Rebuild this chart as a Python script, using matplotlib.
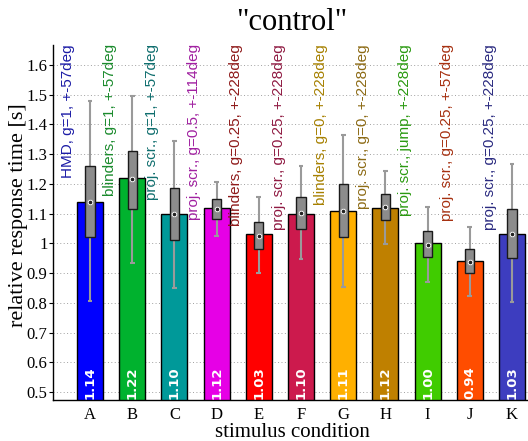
import matplotlib
matplotlib.use("Agg")
import matplotlib.pyplot as plt
import matplotlib.transforms as mtransforms
from matplotlib.ticker import FuncFormatter, MultipleLocator
import numpy as np

# --- data -------------------------------------------------------------
conditions = ["A", "B", "C", "D", "E", "F", "G", "H", "I", "J", "K"]
descriptions = [
    "HMD, g=1, +-57deg",
    "blinders, g=1, +-57deg",
    "proj. scr., g=1, +-57deg",
    "proj. scr., g=0.5, +-114deg",
    "blinders, g=0.25, +-228deg",
    "proj. scr., g=0.25, +-228deg",
    "blinders, g=0, +-228deg",
    "proj. scr., g=0, +-228deg",
    "proj. scr., jump, +-228deg",
    "proj. scr., g=0.25, +-57deg",
    "proj. scr., g=0.25, +-228deg",
]
means = [1.14, 1.22, 1.10, 1.12, 1.03, 1.10, 1.11, 1.12, 1.00, 0.94, 1.03]
medians = [1.14, 1.215, 1.10, 1.115, 1.026, 1.103, 1.11, 1.121, 0.995, 0.937, 1.031]
q1 = [1.022, 1.115, 1.011, 1.083, 0.981, 1.047, 1.02, 1.078, 0.953, 0.899, 0.95]
q3 = [1.261, 1.312, 1.185, 1.148, 1.072, 1.157, 1.20, 1.165, 1.04, 0.98, 1.114]
whisk_lo = [0.805, 0.935, 0.85, 1.026, 0.899, 0.946, 0.854, 0.997, 0.871, 0.823, 0.802]
whisk_hi = [1.48, 1.494, 1.345, 1.206, 1.155, 1.26, 1.365, 1.244, 1.121, 1.054, 1.266]

bar_colors = ["#0000ff", "#00b22e", "#009999", "#e600e6", "#ff0000", "#cc1a4d",
              "#ffb000", "#bf8000", "#40cc00", "#ff4d00", "#3d3dbf"]
text_colors = ["#1c1ca6", "#1a8a2c", "#0f6e6e", "#a020a0", "#8f1a1a", "#8f1a42",
               "#a68000", "#8c6a14", "#2a9a10", "#a63010", "#2a2a80"]

SERIF = "Liberation Serif"
SANS = "Liberation Sans"

fig = plt.figure(figsize=(5.28, 4.41), dpi=100)
ax = fig.add_axes([53 / 528, 41 / 441, 478 / 528, 355 / 441])

x = np.arange(1, len(conditions) + 1)

# bars
ax.bar(x, means, width=0.62, color=bar_colors, edgecolor="black",
       linewidth=1.0, zorder=2, bottom=0)

# whiskers with caps
ax.vlines(x, whisk_lo, whisk_hi, color="#9a9a9a", linewidth=1.5, zorder=3)
cap = 0.055
ax.hlines(whisk_lo, x - cap, x + cap, color="#9a9a9a", linewidth=1.5, zorder=3)
ax.hlines(whisk_hi, x - cap, x + cap, color="#9a9a9a", linewidth=1.5, zorder=3)

# quartile boxes
box_w = 0.22
q1a = np.array(q1)
q3a = np.array(q3)
ax.bar(x, q3a - q1a, width=box_w, bottom=q1a, color="#8c8c8c",
       edgecolor="#1a1a1a", linewidth=1.0, zorder=4)

# median markers
ax.plot(x, medians, "o", markersize=4.5, markerfacecolor="white",
        markeredgecolor="#8c8c8c", markeredgewidth=0.5, zorder=5)
ax.plot(x, medians, "o", markersize=1.6, color="#222222", zorder=6)

# value labels inside bars
for xi, m in zip(x, means):
    ax.text(xi, 0.478, f"{m:.2f}", rotation=90, ha="center", va="bottom",
            color="white", fontsize=9.5, fontweight="bold",
            family="DejaVu Sans", zorder=7)

# condition descriptions
trans = mtransforms.blended_transform_factory(ax.transData, ax.transAxes)
for xi, d, c in zip(x, descriptions, text_colors):
    ax.text(xi - 0.53, 1.002, d, rotation=90, ha="center", va="top",
            color=c, fontsize=11, family=SANS, transform=trans, zorder=7)

ax.set_xlim(0.123, 11.45)
ax.set_ylim(0.473, 1.667)


def fmt(v, pos):
    s = f"{v:.1f}"
    return "1" if s == "1.0" else s


ax.yaxis.set_major_locator(MultipleLocator(0.1))
ax.yaxis.set_major_formatter(FuncFormatter(fmt))
ax.grid(axis="y", linestyle=(0, (1, 2.5)), color="#a0a0a0", linewidth=0.7)
ax.set_axisbelow(True)

ax.set_xticks(x)
ax.set_xticklabels(conditions, family=SERIF, fontsize=12)
ax.tick_params(axis="x", length=0, pad=5)
ax.tick_params(axis="y", direction="out", length=3, width=0.8, pad=1,
               labelsize=12)
for lab in ax.get_yticklabels():
    lab.set_family(SERIF)

for s in ("top", "right"):
    ax.spines[s].set_visible(False)
for s in ("left", "bottom"):
    ax.spines[s].set_linewidth(1.0)

ax.set_xlabel("stimulus condition", family=SERIF, fontsize=15, labelpad=0)
ax.set_ylabel("relative response time [s]", family=SERIF, fontsize=16,
              va="center")
ax.yaxis.set_label_coords(-0.072, 0.52)
ax.set_title('"control"', family=SERIF, fontsize=22, pad=11)

fig.savefig("out.png", dpi=100)
